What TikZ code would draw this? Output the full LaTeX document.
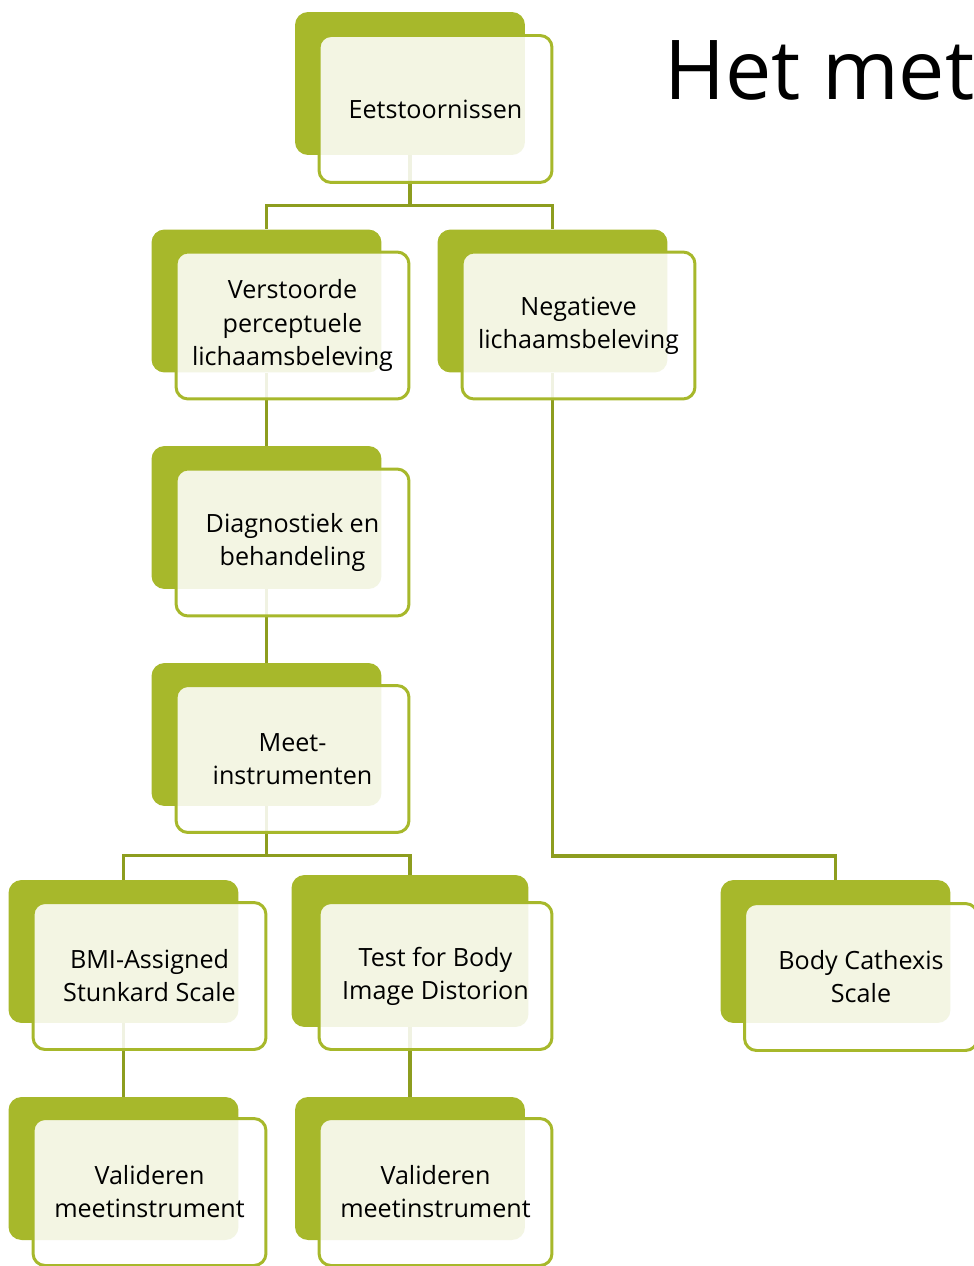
\documentclass[tikz,border=0pt]{standalone}
\usepackage{fontspec}
\setmainfont{Open Sans}
\definecolor{leaf}{HTML}{A7B82B}
\definecolor{olive}{HTML}{8D9D1F}
\tikzset{
  back/.style={rectangle, fill=leaf, rounded corners=0.26cm, inner sep=0pt,
    minimum width=4.6cm, minimum height=2.86cm},
  front/.style={rectangle, draw=leaf, line width=1.7pt, fill=white,
    fill opacity=0.87, text opacity=1, rounded corners=0.24cm,
    minimum width=4.66cm, minimum height=2.94cm, align=center,
    font=\fontsize{14.3}{18.8}\selectfont},
  link/.style={draw=olive, line width=2pt}
}
\begin{document}
\begin{tikzpicture}[x={(0.02cm,0)}, y={(0,-0.02cm)}]
      \useasboundingbox (0,0) rectangle (973,1266);
      % title
      \node[anchor=base west, inner sep=0pt, font=\fontsize{47}{56}\selectfont] (title) at (664,100) {Het met};
      % green back plates
      \node[back] (eet) at (410,83.5) {};
      \node[back] (vers) at (266.5,301) {};
      \node[back] (neg) at (552.5,301) {};
      \node[back] (diag) at (266.5,517.5) {};
      \node[back] (meet) at (266.5,734.5) {};
      \node[back] (bmi) at (123.5,951.5) {};
      \node[back, minimum width=4.74cm, minimum height=3.04cm] (tbid) at (410,951) {};
      \node[back] (bcs) at (835.5,951.5) {};
      \node[back] (val1) at (123.5,1168.5) {};
      \node[back] (val2) at (410,1168.5) {};
      % tree lines
      \begin{scope}[link]
        \draw (eet.south) -- ++(0,50) -| (vers.north);
        \draw (eet.south) -- ++(0,50) -| (neg.north);
        \draw (vers.south) -- (diag.north);
        \draw (diag.south) -- (meet.north);
        \draw (meet.south) -- ++(0,49) -| (bmi.north);
        \draw (meet.south) -- ++(0,49) -| (tbid.north);
        \draw (neg.south) -- ++(0,483) -| (bcs.north);
        \draw (bmi.south) -- (val1.north);
        \draw (tbid.south) -- (val2.north);
      \end{scope}
      % front cards with text
      \node[front] (eett) at (435.5,109) {Eetstoornissen};
      \node[front] (verst) at (292.5,325.5) {Verstoorde\\perceptuele\\lichaamsbeleving};
      \node[front] (negt) at (578.5,325.5) {Negatieve\\lichaamsbeleving};
      \node[front] (diagt) at (292.5,542.5) {Diagnostiek en\\behandeling};
      \node[front] (meett) at (292.5,759) {Meet-\\instrumenten};
      \node[front] (bmit) at (149.5,976) {BMI-Assigned\\Stunkard Scale};
      \node[front] (tbidt) at (435.5,976) {Test for Body\\Image Distorion};
      \node[front] (bcst) at (861,977) {Body Cathexis\\Scale};
      \node[front] (val1t) at (149.5,1192) {Valideren\\meetinstrument};
      \node[front] (val2t) at (435.5,1192) {Valideren\\meetinstrument};
    \end{tikzpicture}
\end{document}
